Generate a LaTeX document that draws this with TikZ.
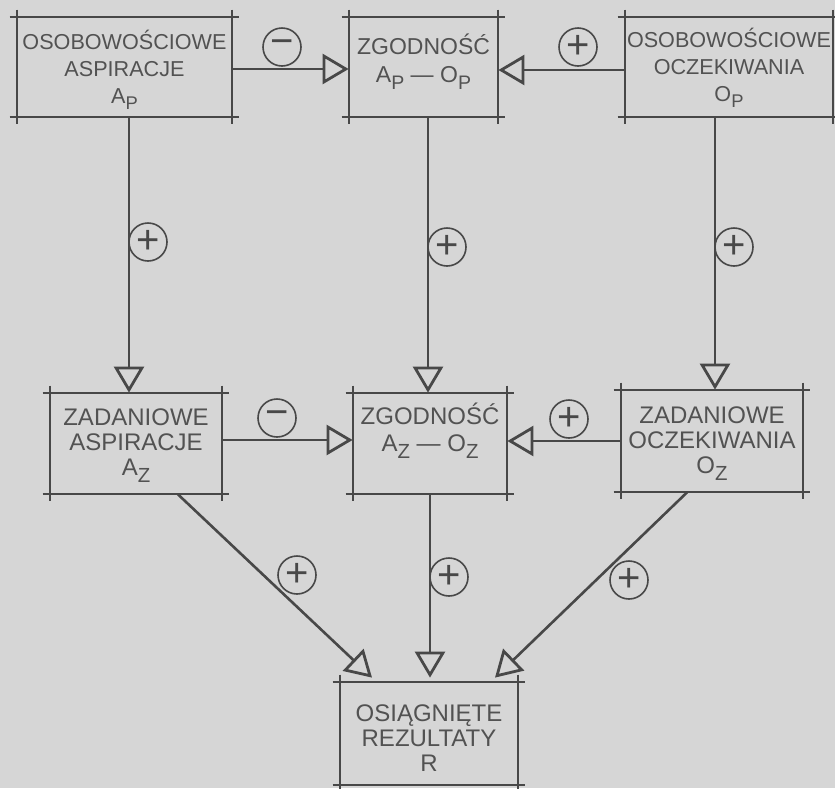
\documentclass[tikz,border=0pt]{standalone}
\usepackage{fontspec}
\usepackage{graphicx}
\setmainfont{Liberation Sans}
\usetikzlibrary{arrows.meta,calc}
\definecolor{bg}{RGB}{214,214,214}
\definecolor{ink}{RGB}{72,72,72}
\definecolor{txt}{RGB}{82,82,82}
\newcommand{\idx}[2]{#1\raisebox{-0.3em}{\scalebox{0.85}{#2}}}
\begin{document}
\begin{tikzpicture}[x=0.5pt,y=-0.5pt,
  box/.style={draw=none, rectangle, inner sep=0pt},
  boxtext/.style={align=center, text=txt, inner sep=0pt, font=\fontsize{12}{12.5}\selectfont},
  toptext/.style={boxtext, font=\fontsize{10.8}{13.5}\selectfont},
  edge/.style={draw=ink, line width=1.3pt, -{Triangle[open,length=13pt,width=15pt,line width=1.4pt]}},
  sign/.style={circle, draw=ink, line width=0.8pt, minimum size=19pt, inner sep=0pt, text=ink, font=\fontsize{20}{20}\selectfont},
  frame/.style={draw=ink, line width=1pt}
]
\useasboundingbox (0,0) rectangle (835,788);
\fill[bg] (0,0) rectangle (835,788);

% boxes
\node[box, minimum width=107.5pt, minimum height=50pt] (b1) at (124.5,67) {};
\node[box, minimum width=74.5pt, minimum height=50pt] (b2) at (423.5,67) {};
\node[box, minimum width=104pt, minimum height=50pt] (b3) at (729,67) {};
\node[box, minimum width=86pt, minimum height=50.5pt] (b4) at (136,443.5) {};
\node[box, minimum width=77pt, minimum height=50.5pt] (b5) at (430,443.5) {};
\node[box, minimum width=91pt, minimum height=51pt] (b6) at (712,441) {};
\node[box, minimum width=89pt, minimum height=51.5pt] (b7) at (429,733.5) {};

\foreach \n in {b1,b2,b3,b4,b5,b6,b7}{
  \draw[frame] ([xshift=-3.5pt]\n.north west) -- ([xshift=3.5pt]\n.north east);
  \draw[frame] ([xshift=-3.5pt]\n.south west) -- ([xshift=3.5pt]\n.south east);
  \draw[frame] ([yshift=3.5pt]\n.north west) -- ([yshift=-3.5pt]\n.south west);
  \draw[frame] ([yshift=3.5pt]\n.north east) -- ([yshift=-3.5pt]\n.south east);
}

% texts
\node[toptext] (t1) at (124.5,70) {OSOBOWOŚCIOWE\\ASPIRACJE\\\idx{A}{P}};
\node[boxtext, font=\fontsize{11.5}{14}\selectfont] (t2) at (423.5,62) {ZGODNOŚĆ\\\idx{A}{P} — \idx{O}{P}};
\node[toptext] (t3) at (729,68) {OSOBOWOŚCIOWE\\OCZEKIWANIA\\\idx{O}{P}};
\node[boxtext] (t4) at (136,446) {ZADANIOWE\\ASPIRACJE\\\idx{A}{Z}};
\node[boxtext, font=\fontsize{12}{13.5}\selectfont] (t5) at (430,431) {ZGODNOŚĆ\\\idx{A}{Z} — \idx{O}{Z}};
\node[boxtext] (t6) at (712,444) {ZADANIOWE\\OCZEKIWANIA\\\idx{O}{Z}};
\node[boxtext] (t7) at (429,738) {OSIĄGNIĘTE\\REZULTATY\\R};

% connectors
\draw[edge] ([yshift=-1pt]b1.east) -- ([yshift=-1pt]b2.west);
\draw[edge] ([yshift=-1.5pt]b3.west) -- ([yshift=-1.5pt]b2.east);
\draw[edge] ([xshift=2.25pt]b1.south) -- ([xshift=-3.5pt]b4.north);
\draw[edge] ([xshift=2.25pt]b2.south) -- ([xshift=-1pt]b5.north);
\draw[edge] ([xshift=-7pt]b3.south) -- ([xshift=1.5pt]b6.north);
\draw[edge] ([yshift=1.75pt]b4.east) -- ([yshift=1.75pt]b5.west);
\draw[edge] (b6.west) -- ([yshift=1.25pt]b5.east);
\draw[edge] ([xshift=21pt]b4.south) -- ([xshift=-28.5pt,yshift=2pt]b7.north);
\draw[edge] (b5.south) -- ([xshift=0.5pt,yshift=2pt]b7.north);
\draw[edge] ([xshift=-12.5pt]b6.south) -- ([xshift=33pt,yshift=2pt]b7.north);

% signs
\node[sign] (s1) at (282,47) {−};
\node[sign] (s2) at (578,47) {+};
\node[sign] (s3) at (148,242) {+};
\node[sign] (s4) at (447,247) {+};
\node[sign] (s5) at (734,247) {+};
\node[sign] (s6) at (277,418) {−};
\node[sign] (s7) at (569,419) {+};
\node[sign] (s8) at (297,575) {+};
\node[sign] (s9) at (449,577) {+};
\node[sign] (s10) at (629,580) {+};
\end{tikzpicture}
\end{document}
